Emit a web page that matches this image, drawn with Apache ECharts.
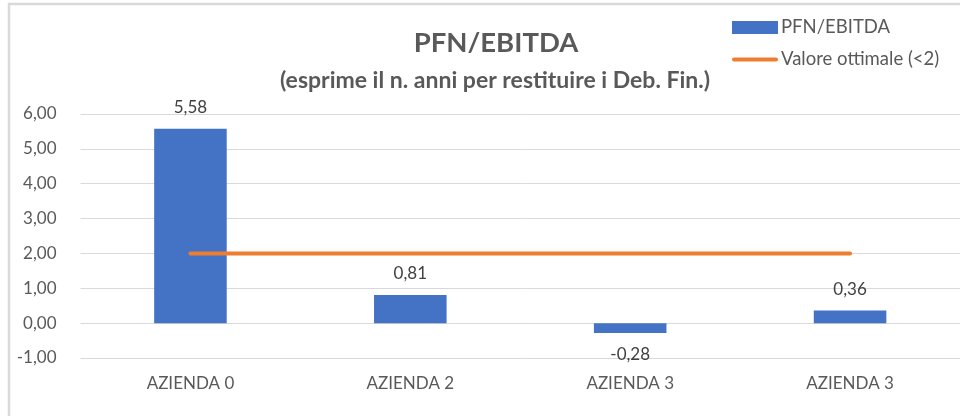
<!DOCTYPE html>
<html><head><meta charset="utf-8">
<script src="https://cdn.jsdelivr.net/npm/echarts@6/dist/echarts.min.js"></script>
<style>html,body{margin:0;padding:0;background:#fff}#c{width:960px;height:416px}</style>
</head><body><div id="c"></div>
<script>
var categories = ['AZIENDA 0', 'AZIENDA 2', 'AZIENDA 3', 'AZIENDA 3'];
var pfnEbitda = [5.58, 0.81, -0.28, 0.36];
var valoreOttimale = [2, 2, 2, 2];
var seriesNames = ['PFN/EBITDA', 'Valore ottimale (<2)'];
var titleText = 'PFN/EBITDA';
var subtitleText = '(esprime il n. anni per restituire i Deb. Fin.)';

var FONT = 'Lato, "Open Sans", sans-serif';
var TXT = '#595959';
function fmt(v){ return Number(v).toFixed(2).replace('.', ','); }

var barData = pfnEbitda.map(function(v){
  return {value: v, label: {position: v < 0 ? 'bottom' : 'top'}};
});

var chart = echarts.init(document.getElementById('c'), null, {renderer: 'canvas'});
chart.setOption({
  animation: false,
  backgroundColor: '#fff',
  textStyle: {fontFamily: FONT},
  graphic: [{
    type: 'rect', silent: true, z: -1,
    shape: {x: 9, y: 4, width: 1000, height: 1000},
    style: {fill: 'none', stroke: '#d9d9d9', lineWidth: 2.5}
  }],
  title: [{
    text: titleText, left: 491, top: 24, textAlign: 'center',
    textStyle: {fontFamily: FONT, fontWeight: 'bold', fontSize: 27.5, color: TXT}
  }, {
    text: subtitleText, left: 490, top: 64, textAlign: 'center',
    textStyle: {fontFamily: FONT, fontWeight: 'bold', fontSize: 23, color: TXT}
  }],
  legend: {
    orient: 'vertical', left: 727, top: 13, itemGap: 13,
    itemWidth: 46, itemHeight: 13,
    textStyle: {fontFamily: FONT, fontSize: 18.5, color: TXT, padding: [0,0,0,-2]},
    data: [
      {name: seriesNames[0], icon: 'rect'},
      {name: seriesNames[1], icon: 'path://M2,0L44,0A2,2,0,0,1,44,4L2,4A2,2,0,0,1,2,0Z',
       itemStyle: {color: '#ED7D31'}}
    ]
  },
  grid: {left: 80.5, top: 114, width: 884, height: 244, containLabel: false},
  xAxis: {
    type: 'category', data: categories,
    axisLine: {show: false}, axisTick: {show: false},
    axisLabel: {fontFamily: FONT, fontSize: 17, color: TXT, margin: 17}
  },
  yAxis: {
    type: 'value', min: -1, max: 6, interval: 1,
    axisLine: {show: false}, axisTick: {show: false},
    splitLine: {lineStyle: {color: '#d9d9d9', width: 1}},
    axisLabel: {fontFamily: FONT, fontSize: 17, color: TXT, margin: 24, formatter: fmt}
  },
  series: [{
    name: seriesNames[0], type: 'bar', data: barData, barWidth: '33%',
    itemStyle: {color: '#4472C4'},
    label: {show: true, position: 'top', distance: 13, fontFamily: FONT, fontSize: 17, color: '#404040',
      formatter: function(p){ return fmt(p.value); }}
  }, {
    name: seriesNames[1], type: 'line', data: valoreOttimale,
    showSymbol: false, symbol: 'none',
    lineStyle: {color: '#ED7D31', width: 4, cap: 'round'},
    itemStyle: {color: '#ED7D31'}
  }]
});
</script></body></html>
